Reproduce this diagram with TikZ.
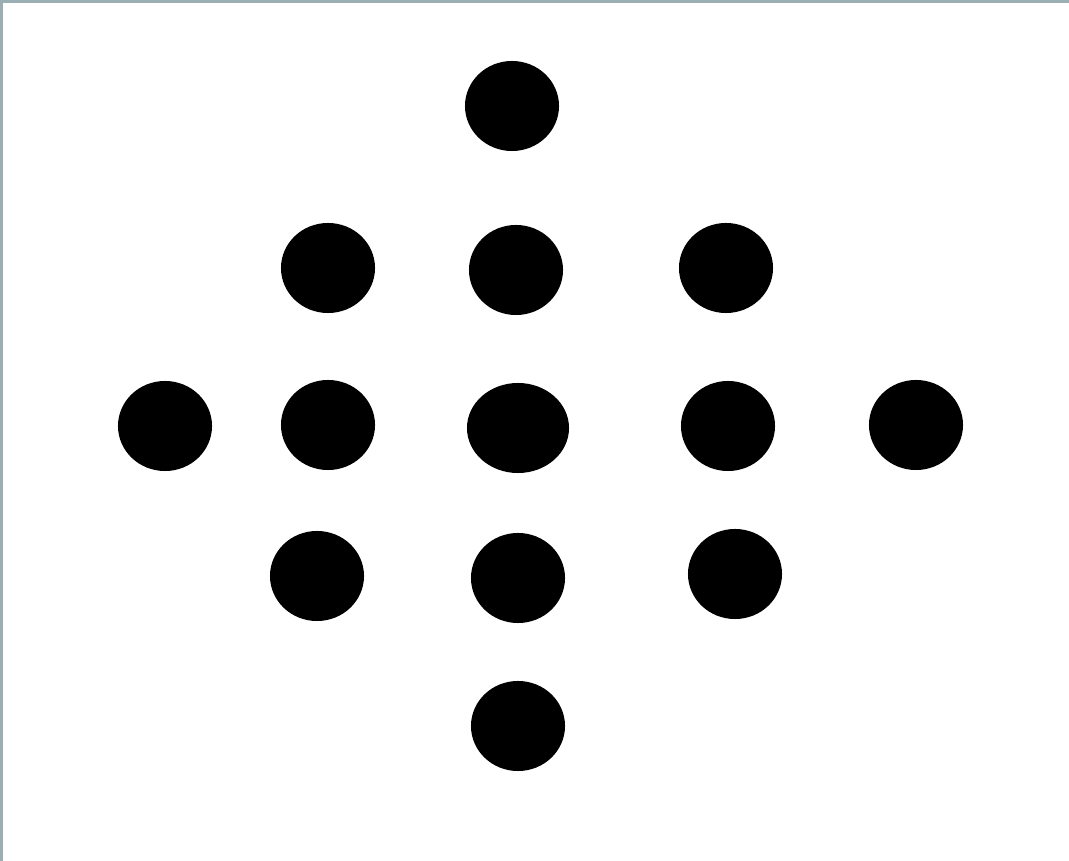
\documentclass[tikz,border=0pt]{standalone}
\usetikzlibrary{shapes.geometric}
\definecolor{edge}{HTML}{9AAEB4}
\begin{document}
\begin{tikzpicture}[x=0.01cm,y=-0.01cm,
  dot/.style={ellipse,fill=black,inner sep=0pt,minimum width=0.94cm,minimum height=0.90cm},
  bigdot/.style={dot,minimum width=1.02cm}]
\useasboundingbox (0,0) rectangle (1069,861);
\fill[white] (0,0) rectangle (1069,861);
\fill[edge] (0,0) rectangle (1069,3);
\fill[edge] (0,0) rectangle (3,861);
\node[dot] (d1) at (512,106) {};
\node[dot] (d2) at (328,268) {};
\node[dot] (d3) at (516,270) {};
\node[dot] (d4) at (726,268) {};
\node[dot] (d5) at (165,426) {};
\node[dot] (d6) at (328,425) {};
\node[bigdot] (d7) at (518,428) {};
\node[dot] (d8) at (728,426) {};
\node[dot] (d9) at (916,425) {};
\node[dot] (d10) at (317,576) {};
\node[dot] (d11) at (518,578) {};
\node[dot] (d12) at (735,574) {};
\node[dot] (d13) at (518,726) {};
\end{tikzpicture}
\end{document}
